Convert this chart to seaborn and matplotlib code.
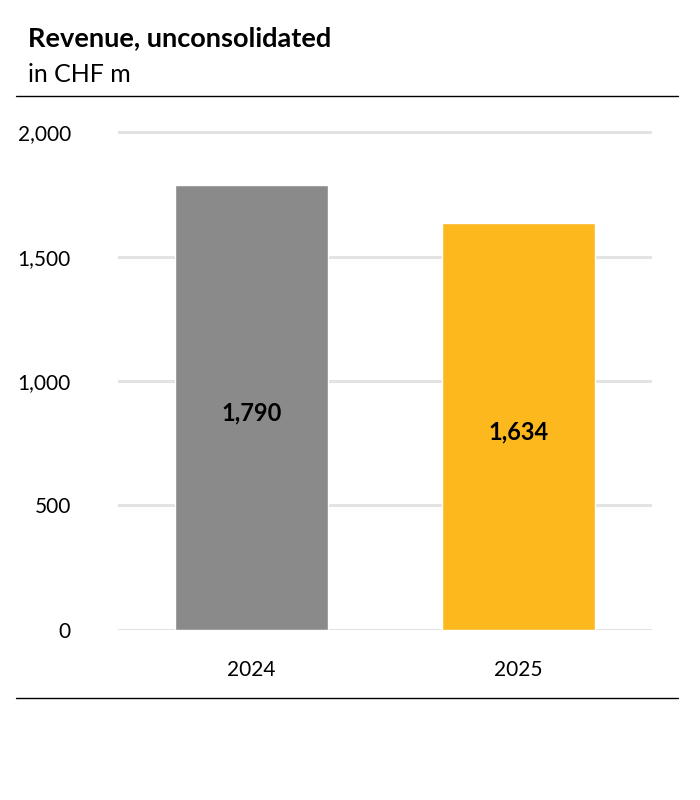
import matplotlib
matplotlib.use("Agg")
import seaborn as sns
import matplotlib.pyplot as plt
from matplotlib.lines import Line2D

# Chart data
years = ["2024", "2025"]
revenue = [1790, 1634]
bar_colors = ["#8a8a8a", "#fdb81e"]
y_ticks = [0, 500, 1000, 1500, 2000]

sns.set_style("white")
plt.rcParams["font.family"] = ["Lato", "DejaVu Sans"]
plt.rcParams["text.color"] = "black"
plt.rcParams["xtick.color"] = "black"
plt.rcParams["ytick.color"] = "black"

fig = plt.figure(figsize=(7, 8), dpi=100)
ax = fig.add_axes([118 / 700, 1 - 629.5 / 800, 534 / 700, 499 / 800])

sns.barplot(x=years, y=revenue, hue=years, palette=bar_colors,
            width=0.57, saturation=1, legend=False, ax=ax, zorder=3)

ax.set_ylim(0, 2008)
ax.set_xlim(-0.5, 1.5)
ax.set_yticks(y_ticks)
ax.set_yticklabels(["{:,}".format(v) for v in y_ticks])
ax.grid(axis="y", color="#e3e3e3", linewidth=2.2, zorder=0)
ax.set_axisbelow(True)
sns.despine(ax=ax, left=True, bottom=True)
ax.tick_params(axis="y", length=0, pad=34, labelsize=15)
ax.tick_params(axis="x", length=0, pad=22, labelsize=15)
for lbl in ax.get_yticklabels():
    lbl.set_verticalalignment("center_baseline")
ax.set_xlabel("")
ax.set_ylabel("")

# value labels in the middle of each bar
for i, v in enumerate(revenue):
    ax.annotate("{:,}".format(v), xy=(i, v / 2), xytext=(0, -4),
                textcoords="offset points", ha="center", va="center",
                fontsize=17, fontweight="bold", color="black")

fig.text(28 / 700, 1 - 38 / 800, "Revenue, unconsolidated",
         fontsize=19.5, fontweight="bold", va="center", ha="left")
fig.text(28 / 700, 1 - 74 / 800, "in CHF m", fontsize=18, va="center", ha="left")

fig.add_artist(Line2D([16 / 700, 678 / 700], [1 - 96 / 800, 1 - 96 / 800],
                      color="black", linewidth=1))
fig.add_artist(Line2D([16 / 700, 678 / 700], [1 - 698 / 800, 1 - 698 / 800],
                      color="black", linewidth=1))

fig.savefig("out.png", dpi=100, facecolor="white")
